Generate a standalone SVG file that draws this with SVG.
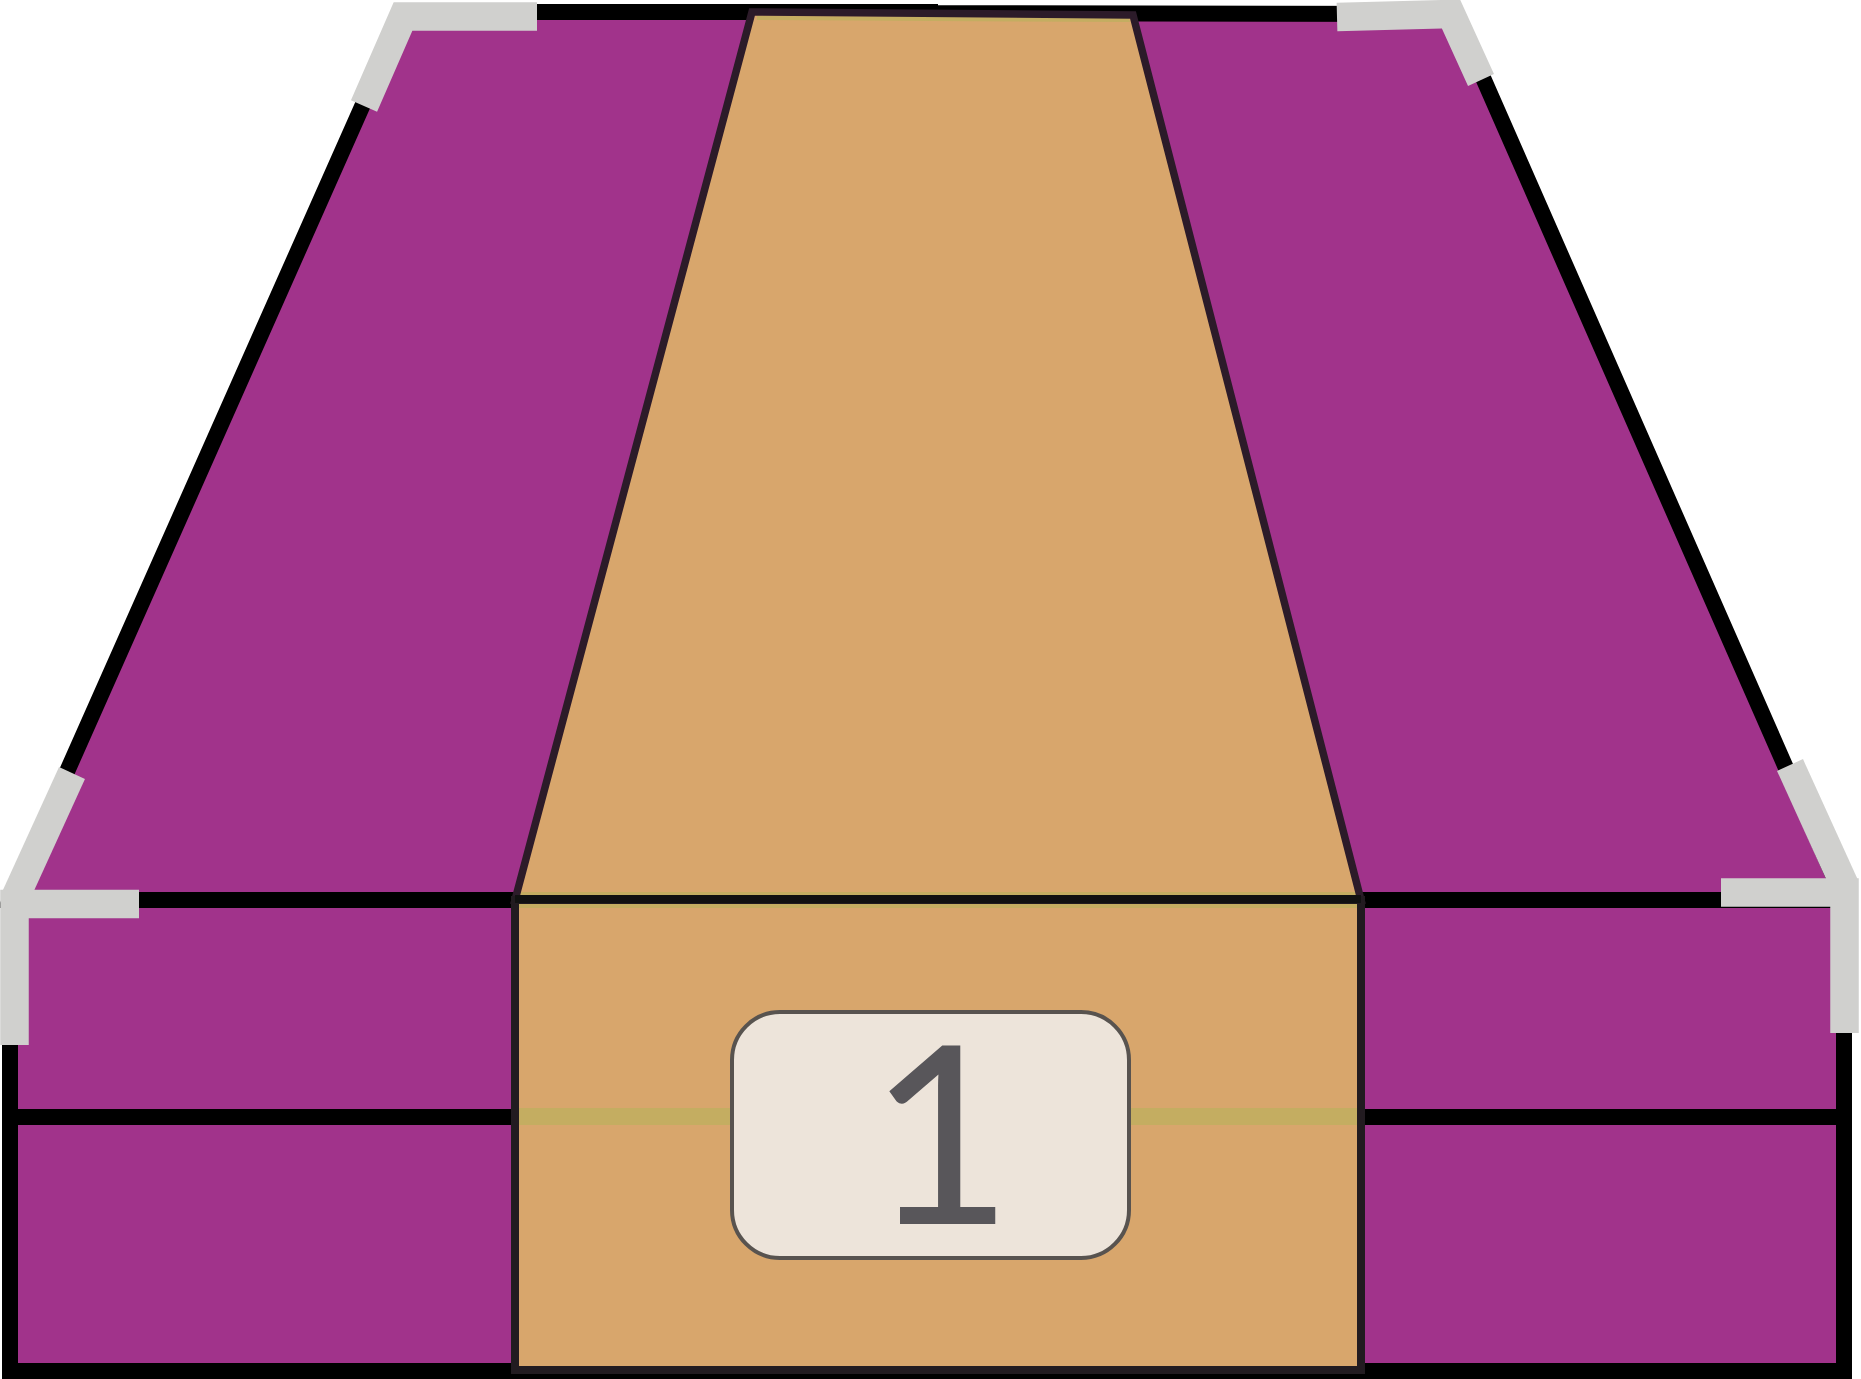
<svg xmlns="http://www.w3.org/2000/svg" width="1861" height="1379" viewBox="0 0 1861 1379">
  <style>
    .purple { fill: #A1338B; }
    .frame { fill: none; stroke: #000000; stroke-width: 16; stroke-linejoin: miter; }
    .orange { fill: #D8A66C; }
    .oborder { fill: none; stroke: #2C1B29; stroke-width: 7.5; stroke-linejoin: miter; }
    .olive { fill: #C4AD61; }
    .bracket { fill: none; stroke: #D0D0CE; stroke-width: 28.5; stroke-linejoin: miter; stroke-linecap: butt; }
    .label { fill: #EDE4DA; stroke: #58534F; stroke-width: 4; }
    .num { font-family: Lato, "Liberation Sans", sans-serif; font-size: 248px; fill: #58565A; }
  </style>
  <rect width="1861" height="1379" fill="#FFFFFF"/>

  <g id="body">
    <polygon class="purple" points="10,900 404,12 930,12 1455,14 1844,900"/>
    <rect class="purple" x="10" y="900" width="1834" height="471"/>
    <polygon class="frame" points="10,900 404,12 930,12 930,13 1455,14 1844,900"/>
    <rect class="frame" x="10" y="900" width="1834" height="471"/>
    <line class="frame" x1="10" y1="1117" x2="1844" y2="1117"/>
  </g>

  <g id="front-panel">
    <polygon class="orange" points="752,12 1133,15 1361,900 515,900"/>
    <rect class="orange" x="515" y="900" width="846" height="470"/>
    <polygon class="olive" points="757,16 1129,18 1130,22 757,20"/>
    <rect class="olive" x="519" y="1108" width="838" height="17"/>
    <rect class="olive" x="519" y="892" width="838" height="16"/>
    <polygon class="oborder" points="752,12 1133,15 1361,900 515,900"/>
    <rect x="515" y="900" width="846" height="470" fill="none" stroke="#221B20" stroke-width="8"/>
    <line x1="515" y1="899" x2="1361" y2="899" stroke="#111111" stroke-width="8"/>
  </g>

  <g id="label-1">
    <rect class="label" x="732" y="1012" width="397" height="246" rx="48" ry="48"/>
    <text class="num" x="941" y="1224" text-anchor="middle">1</text>
  </g>

  <g id="connectors">
    <path class="bracket" d="M537,16.5 L403,16.5 L364,106"/>
    <path class="bracket" d="M1337,17 L1451,14 L1481,80"/>
    <path class="bracket" d="M72,773 L15,898"/>
    <path class="bracket" d="M139,904 L14.5,904 L14.5,1045"/>
    <path class="bracket" d="M1790,765 L1845,886"/>
    <path class="bracket" d="M1721,892.5 L1844.5,892.5 L1844.5,1033"/>
  </g>
</svg>
